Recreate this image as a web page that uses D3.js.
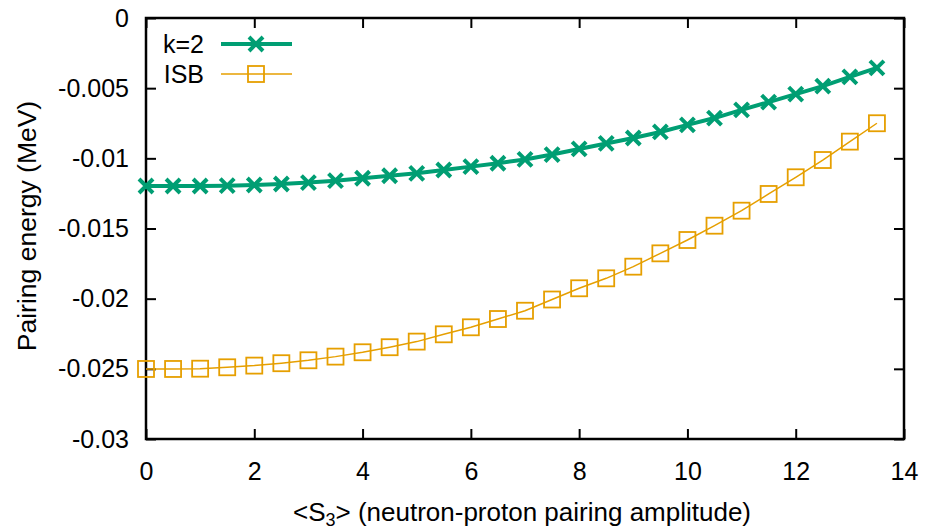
<!DOCTYPE html>
<html>
<head>
<meta charset="utf-8">
<script src="https://cdn.jsdelivr.net/npm/d3@7"></script>
<style>
body { margin: 0; background: #fff; }
text { font-family: "Liberation Sans", Arial, sans-serif; fill: #000; }
</style>
</head>
<body>
<script>
// data
var s3 = [0, 0.5, 1, 1.5, 2, 2.5, 3, 3.5, 4, 4.5, 5, 5.5, 6, 6.5, 7,
          7.5, 8, 8.5, 9, 9.5, 10, 10.5, 11, 11.5, 12, 12.5, 13, 13.5];
var k2 = [-0.01197, -0.01197, -0.01197, -0.01195, -0.0119, -0.01183, -0.01173, -0.01159,
          -0.01142, -0.01124, -0.01107, -0.01083, -0.01059, -0.01035, -0.01008, -0.00973,
          -0.00933, -0.00894, -0.00855, -0.00812, -0.00762, -0.00713, -0.00655, -0.00599,
          -0.00542, -0.00485, -0.0042, -0.00356];
var isb = [-0.02501, -0.02501, -0.02499, -0.02489, -0.02477, -0.0246, -0.02439, -0.02413,
           -0.02382, -0.02346, -0.02306, -0.02254, -0.02204, -0.02145, -0.02086, -0.02006,
           -0.01926, -0.01855, -0.01772, -0.01677, -0.01582, -0.0148, -0.01373, -0.01254,
           -0.01135, -0.01012, -0.00881, -0.0075];
var xTicks = [0, 2, 4, 6, 8, 10, 12, 14];
var yTicks = [0, -0.005, -0.01, -0.015, -0.02, -0.025, -0.03];
var yTickLabels = ["0", "-0.005", "-0.01", "-0.015", "-0.02", "-0.025", "-0.03"];

var margin = { top: 18, right: 21, bottom: 91, left: 146 },
    width = 925 - margin.left - margin.right,
    height = 530 - margin.top - margin.bottom;

var svg = d3.select("body")
    .append("svg")
    .attr("width", 925)
    .attr("height", 530);

var g = svg.append("g").attr("transform", "translate(" + margin.left + "," + margin.top + ")");

var x = d3.scaleLinear().domain([0, 14]).range([0, width]),
    y = d3.scaleLinear().domain([-0.03, 0]).range([height, 0]);

var green = "#009e73", orange = "#e69f00";

// axes, ticks inward and mirrored
function styleAxis(sel) {
    sel.select(".domain").remove();
    sel.selectAll(".tick line").attr("stroke", "#000").attr("stroke-width", 2);
    sel.selectAll(".tick text").style("font-size", "25px").attr("fill", "#000");
}

g.append("g")
    .attr("transform", "translate(0," + height + ")")
    .call(d3.axisBottom(x).tickValues(xTicks).tickSize(-10).tickPadding(23).tickFormat(d3.format("d")))
    .call(styleAxis);

g.append("g")
    .call(d3.axisTop(x).tickValues(xTicks).tickSize(-10).tickFormat(""))
    .call(styleAxis);

g.append("g")
    .call(d3.axisLeft(y).tickValues(yTicks).tickSize(-10).tickPadding(17)
        .tickFormat(function (d, i) { return yTickLabels[i]; }))
    .call(styleAxis);

g.append("g")
    .attr("transform", "translate(" + width + ",0)")
    .call(d3.axisRight(y).tickValues(yTicks).tickSize(-10).tickFormat(""))
    .call(styleAxis);

g.append("rect")
    .attr("width", width)
    .attr("height", height)
    .attr("fill", "none")
    .attr("stroke", "#000")
    .attr("stroke-width", 2.5);

// axis titles
var xl = svg.append("text")
    .attr("x", margin.left + width / 2 - 3)
    .attr("y", 521)
    .attr("text-anchor", "middle")
    .style("font-size", "26px");
xl.append("tspan").text("<S");
xl.append("tspan").attr("dy", 5).style("font-size", "18px").text("3");
xl.append("tspan").attr("dy", -5).text("> (neutron-proton pairing amplitude)");

svg.append("text")
    .attr("transform", "translate(36,226) rotate(-90)")
    .attr("text-anchor", "middle")
    .style("font-size", "26.5px")
    .text("Pairing energy (MeV)");

// series
var lineK2 = d3.line()
    .x(function (d, i) { return x(s3[i]); })
    .y(function (d) { return y(d); });

g.append("path")
    .datum(isb)
    .attr("fill", "none")
    .attr("stroke", orange)
    .attr("stroke-width", 1.5)
    .attr("d", lineK2);

g.selectAll(".sq")
    .data(isb)
    .enter().append("rect")
    .attr("class", "sq")
    .attr("x", function (d, i) { return x(s3[i]) - 8; })
    .attr("y", function (d) { return y(d) - 8; })
    .attr("width", 16)
    .attr("height", 16)
    .attr("fill", "none")
    .attr("stroke", orange)
    .attr("stroke-width", 1.8);

g.append("path")
    .datum(k2)
    .attr("fill", "none")
    .attr("stroke", green)
    .attr("stroke-width", 4)
    .attr("d", lineK2);

var cross = "M-7,-7L7,7M-7,7L7,-7";
g.selectAll(".cx")
    .data(k2)
    .enter().append("path")
    .attr("class", "cx")
    .attr("transform", function (d, i) { return "translate(" + x(s3[i]) + "," + y(d) + ")"; })
    .attr("d", cross)
    .attr("stroke", green)
    .attr("stroke-width", 4)
    .attr("fill", "none");

// legend
var legend = svg.append("g");
var items = [
    { name: "k=2", color: green, y: 44, w: 4 },
    { name: "ISB", color: orange, y: 74, w: 1.5 }
];
items.forEach(function (it) {
    legend.append("text")
        .attr("x", 204)
        .attr("y", it.y + 9)
        .attr("text-anchor", "end")
        .style("font-size", "25px")
        .text(it.name);
    legend.append("line")
        .attr("x1", 221).attr("x2", 292)
        .attr("y1", it.y).attr("y2", it.y)
        .attr("stroke", it.color)
        .attr("stroke-width", it.w);
});
legend.append("path")
    .attr("transform", "translate(256,44)")
    .attr("d", cross)
    .attr("stroke", green)
    .attr("stroke-width", 4)
    .attr("fill", "none");
legend.append("rect")
    .attr("x", 248).attr("y", 66)
    .attr("width", 16).attr("height", 16)
    .attr("fill", "none")
    .attr("stroke", orange)
    .attr("stroke-width", 1.8);
</script>
</body>
</html>
